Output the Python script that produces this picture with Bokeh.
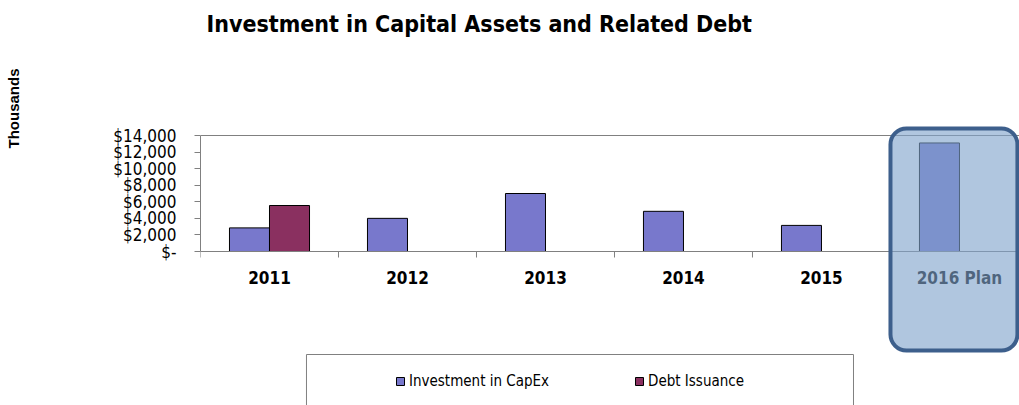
from bokeh.plotting import figure
from bokeh.models import (ColumnDataSource, Range1d, LinearAxis, FixedTicker,
                          NumeralTickFormatter, BoxAnnotation, Span, Label,
                          Title, Legend, LegendItem)
from bokeh.core.properties import value
from bokeh.embed import file_html
from bokeh.resources import INLINE

# ---- data ----
categories = ["2011", "2012", "2013", "2014", "2015", "2016 Plan"]
capex = [2850, 4000, 7000, 4850, 3150, 13100]
debt = [5550, 0, 0, 0, 0, 0]
y_ticks = [0, 2000, 4000, 6000, 8000, 10000, 12000, 14000]

TITLE = "Investment in Capital Assets and Related Debt"
Y_TITLE = "Thousands"
NARROW = "DejaVu Sans Condensed"
CAPEX_COLOR = "#7878cc"
DEBT_COLOR = "#8a3060"
BAR_W = 0.29

# ---- layout constants (pixels, from the top of the canvas) ----
H = 405
ZERO_PX = 251          # canvas row of the zero line
PLOT_PX = 116          # height of the 0..14000 band
UPP = y_ticks[-1] / PLOT_PX   # data units per pixel


def row(px):
    """data value at a canvas row"""
    return (ZERO_PX - px) * UPP


n = len(categories)
centers = [i + 0.5 for i in range(n)]
bounds = list(range(n))
capex_src = ColumnDataSource(dict(x=[c - BAR_W / 2 for c in centers], top=capex))
debt_idx = [i for i, v in enumerate(debt) if v > 0]
debt_src = ColumnDataSource(dict(x=[centers[i] + BAR_W / 2 for i in debt_idx],
                                 top=[debt[i] for i in debt_idx]))
lab_src = ColumnDataSource(dict(x=centers, y=[0] * n, text=categories))
tick_src = ColumnDataSource(dict(x=bounds, y0=[0] * n, y1=[-6 * UPP] * n))

p = figure(width=1019, height=H, output_backend="svg", toolbar_location=None,
           x_range=Range1d(0, 5.935), y_range=Range1d(row(H), row(0)),
           x_axis_type=None, y_axis_type=None,
           min_border_left=200, min_border_right=0, min_border_top=0,
           min_border_bottom=0)
p.outline_line_color = None
p.background_fill_color = "white"
p.border_fill_color = "white"

# title
p.add_layout(Label(x=0, y=row(23), x_offset=6, text=TITLE, text_font=NARROW,
                   text_font_size="23px", text_font_style="bold",
                   text_color="black", text_align="left",
                   text_baseline="middle"))

# y axis
yaxis = LinearAxis(ticker=FixedTicker(ticks=y_ticks),
                   formatter=NumeralTickFormatter(format="$0,0"),
                   bounds=(y_ticks[0], y_ticks[-1]))
yaxis.major_label_overrides = {0: "$-"}
yaxis.axis_line_color = "#808080"
yaxis.major_tick_line_color = "#808080"
yaxis.major_tick_out = 6
yaxis.major_tick_in = 0
yaxis.minor_tick_line_color = None
yaxis.major_label_text_font = NARROW
yaxis.major_label_text_font_size = "17px"
yaxis.major_label_text_color = "black"
yaxis.major_label_standoff = 18
p.add_layout(yaxis, "left")

# empty spacer axis, then the "Thousands" title at the outer edge
spacer = LinearAxis(ticker=FixedTicker(ticks=[]), axis_label=" ")
spacer.axis_line_color = None
spacer.major_tick_line_color = None
spacer.minor_tick_line_color = None
spacer.major_tick_out = 0
spacer.minor_tick_out = 0
spacer.major_label_text_font_size = "0px"
spacer.axis_label_standoff = 69
spacer.axis_label_text_font_size = "15px"
p.add_layout(spacer, "left")

p.add_layout(Title(text=Y_TITLE, align="right", offset=68, standoff=0,
                   text_font="Liberation Sans", text_font_style="bold",
                   text_font_size="15px", text_color="black"), "left")

# grid
p.ygrid.ticker = FixedTicker(ticks=y_ticks[1:-1])
p.ygrid.grid_line_color = "black"
p.ygrid.grid_line_width = 1
p.xgrid.grid_line_color = None
p.add_layout(Span(location=y_ticks[-1], dimension="width",
                  line_color="#808080", line_width=1))
p.add_layout(Span(location=y_ticks[0], dimension="width",
                  line_color="#808080", line_width=1))

# category boundary ticks and category labels on the zero line
p.segment(x0="x", y0="y0", x1="x", y1="y1", source=tick_src,
          line_color="#808080", line_width=1)
p.text(x="x", y="y", text="text", source=lab_src, y_offset=26,
       text_align="center", text_baseline="middle", text_font=value(NARROW),
       text_font_style="bold", text_font_size="17px", text_color="black")

# bars
r_capex = p.vbar(x="x", top="top", width=BAR_W, bottom=0, source=capex_src,
                 fill_color=CAPEX_COLOR, line_color="black", line_width=1)
r_debt = p.vbar(x="x", top="top", width=BAR_W, bottom=0, source=debt_src,
                fill_color=DEBT_COLOR, line_color="black", line_width=1)

# legend frame
p.add_layout(BoxAnnotation(left=0.768, right=4.732, top=row(354), bottom=row(H + 20),
                           fill_color="white", fill_alpha=1,
                           line_color="#808080", line_alpha=1, line_width=1,
                           level="underlay"))

legend = Legend(items=[LegendItem(label="Investment in CapEx", renderers=[r_capex]),
                       LegendItem(label="Debt Issuance", renderers=[r_debt])],
                orientation="horizontal", location=(195, 14),
                border_line_alpha=0, background_fill_alpha=0,
                padding=0, margin=0, glyph_width=10, glyph_height=10,
                label_standoff=4, label_width=221, spacing=4, label_height=20,
                label_text_font=NARROW, label_text_font_size="15px",
                label_text_color="black")
p.add_layout(legend, "center")

# highlight box around the plan year
p.add_layout(BoxAnnotation(left=5.0, right=5.92, top=row(128), bottom=row(350),
                           fill_color="#7fa3cc", fill_alpha=0.62,
                           line_color="#3d5f8c", line_alpha=1, line_width=4,
                           border_radius=16, level="overlay"))

open("out.html", "w").write(file_html(p, INLINE))
